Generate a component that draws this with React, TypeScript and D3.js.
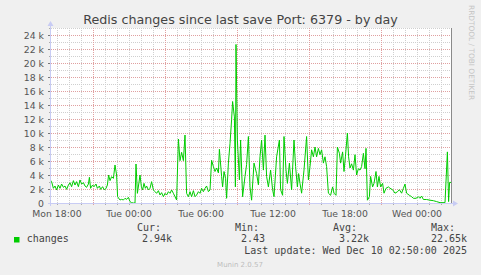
import React from 'react';
import * as d3 from 'd3';

const W = 481;
const H = 275;

// time window (UTC used as wall clock)
const START = Date.UTC(2025, 11, 8, 17, 30);
const END = Date.UTC(2025, 11, 10, 2, 50);

// minutes after START and value in thousands
const sampleMinutes = [
  0, 3, 12, 20, 28, 37, 45, 53, 62, 70, 78, 87, 95, 103, 112, 120, 128, 137, 145, 153,
  162, 170, 178, 187, 192, 198, 208, 215, 225, 232, 242, 248, 258, 267, 275, 282, 288, 295, 303, 312,
  320, 328, 333, 345, 353, 362, 370, 378, 387, 395, 403, 412, 420, 425, 432, 438, 445, 452, 458, 465,
  472, 478, 487, 495, 503, 512, 520, 528, 537, 545, 553, 562, 570, 578, 587, 595, 603, 612, 620, 628,
  637, 645, 653, 662, 670, 678, 687, 695, 703, 712, 720, 728, 737, 745, 753, 762, 770, 778, 787, 795,
  803, 812, 820, 828, 837, 842, 853, 858, 865, 873, 878, 887, 895, 903, 908, 917, 922, 925, 932, 942,
  948, 958, 970, 978, 987, 995, 1003, 1015, 1028, 1037, 1045, 1053, 1062, 1070, 1078, 1087, 1098, 1108, 1115, 1128,
  1142, 1148, 1158, 1165, 1175, 1182, 1192, 1203, 1215, 1223, 1232, 1238, 1245, 1253, 1265, 1278, 1287, 1295, 1303, 1312,
  1320, 1328, 1337, 1345, 1353, 1362, 1370, 1378, 1387, 1398, 1408, 1415, 1425, 1432, 1442, 1448, 1458, 1465, 1472, 1482,
  1488, 1495, 1503, 1512, 1520, 1528, 1537, 1545, 1553, 1562, 1570, 1575, 1582, 1592, 1598, 1608, 1615, 1625, 1632, 1640,
  1648, 1658, 1665, 1675, 1687, 1695, 1708, 1720, 1732, 1742, 1753, 1762, 1770, 1778, 1792, 1803, 1812, 1825, 1837, 1845,
  1853, 1862, 1878, 1895, 1912, 1928, 1945, 1970, 1982, 1988, 1993, 2000,
];
const changesK = [
  3.2, 3.05, 2.1, 2.43, 1.86, 2.57, 2.1, 2.71, 2.24, 2.43, 1.95, 2.57, 2.9, 2.33, 3.19, 2.57, 3.05, 2.33, 3.29, 2.71,
  2.9, 2.43, 2.24, 2.71, 3.67, 2.1, 2.57, 2.33, 2.71, 2.1, 2.43, 1.95, 2.33, 1.86, 2.1, 2.57, 4.0, 3.19, 3.76, 3.52,
  5.43, 4.0, 0.9, 0.43, 0.52, 0.43, 0.67, 0.52, 0.81, 0.19, 0.05, 0.0, 0.0, 5.57, 1.38, 2.57, 4.0, 2.33, 1.86, 2.81,
  2.1, 2.43, 1.86, 2.1, 3.05, 1.86, 1.62, 1.38, 1.76, 1.14, 1.48, 0.9, 1.38, 1.14, 1.62, 1.38, 1.86, 1.38, 0.9, 0.43,
  9.14, 6.05, 7.24, 6.05, 9.71, 1.38, 0.9, 1.62, 0.9, 1.76, 0.9, 1.14, 1.62, 1.38, 2.1, 1.62, 2.1, 2.43, 1.62, 1.86,
  6.1, 5.2, 4.5, 5.0, 4.3, 7.67, 3.8, 2.3, 4.5, 3.5, 0.67, 5.7, 8.5, 11.9, 14.5, 12.3, 2.3, 22.65, 9.0, 3.3,
  9.0, 0.9, 3.8, 5.5, 9.5, 2.3, 0.4, 5.7, 4.2, 2.6, 6.6, 9.0, 4.7, 9.7, 3.8, 2.3, 4.7, 1.9, 0.9, 6.6,
  9.0, 1.9, 1.1, 9.5, 4.7, 2.8, 5.7, 1.9, 9.0, 5.2, 2.3, 4.2, 2.8, 1.4, 4.7, 9.5, 3.3, 5.2, 7.6, 6.6,
  8.0, 6.6, 7.8, 6.9, 7.6, 5.7, 6.6, 5.2, 1.4, 1.1, 2.3, 1.4, 1.1, 8.0, 7.1, 5.7, 7.3, 4.5, 6.6, 10.0,
  6.6, 5.0, 5.6, 4.7, 6.9, 4.0, 4.9, 4.7, 5.2, 7.1, 4.9, 7.8, 0.4, 0.9, 3.8, 2.3, 2.8, 4.5, 2.3, 3.8,
  2.3, 2.8, 1.4, 2.1, 2.3, 2.1, 1.9, 1.4, 1.6, 1.9, 1.4, 2.1, 2.7, 1.4, 1.1, 0.9, 0.67, 0.67, 0.9, 0.67,
  1.0, 0.5, 0.5, 0.4, 0.33, 0.2, 0.05, 0.05, 7.3, 0.2, 2.94, 2.94,
];

const yMajorTicks = [0, 2, 4, 6, 8, 10, 12, 14, 16, 18, 20, 22, 24];
const yMinorTicks = [1, 3, 5, 7, 9, 11, 13, 15, 17, 19, 21, 23, 25];

const legendHeaders = ['Cur:', 'Min:', 'Avg:', 'Max:'];
const legendValues = ['2.94k', '2.43', '3.22k', '22.65k'];
const seriesName = 'changes';
const title = 'Redis changes since last save Port: 6379 - by day';
const lastUpdate = 'Last update: Wed Dec 10 02:50:00 2025';

const PL = 51, PR = 451, PT = 28, PB = 203;

export default function App() {
  const x = d3.scaleUtc().domain([new Date(START), new Date(END)]).range([PL, PR]);
  const y = d3.scaleLinear().domain([0, 25]).range([PB, PT]);

  const hours = d3.utcHour.range(new Date(START), new Date(END + 1));
  const labelHours = hours.filter((d) => d.getUTCHours() % 6 === 0);
  const majorHours = hours.filter((d) => d.getUTCHours() % 6 === 3);
  const minorHours = hours.filter((d) => d.getUTCHours() % 6 !== 3);
  const fmt = d3.utcFormat('%a %H:%M');

  const pts: [number, number][] = sampleMinutes.map((m, i) => [START + m * 60000, changesK[i]]);
  const line = d3
    .line<[number, number]>()
    .x((d) => x(new Date(d[0])))
    .y((d) => y(d[1]));

  const sans = 'DejaVu Sans, sans-serif';
  const mono = 'DejaVu Sans Mono, monospace';
  const axisCol = '#c8ccf4';
  const minorCol = '#cfcfcf';
  const majorCol = '#e0a0a0';
  const legendX = [137, 235, 333, 431];
  const valueRight = [172, 265, 369, 467];

  return (
    <svg width={W} height={H} style={{ position: 'absolute', left: 0, top: 0 }}>
      <rect x={0} y={0} width={W} height={H} fill="#f0f0f0" />
      <rect x={PL} y={PT} width={PR - PL} height={PB - PT} fill="#ffffff" />

      {/* minor grid */}
      {yMinorTicks.map((v) => (
        <line key={'ym' + v} x1={PL} x2={PR} y1={y(v) + 0.5} y2={y(v) + 0.5} stroke={minorCol} strokeDasharray="1,1" />
      ))}
      {minorHours.map((d) => (
        <line key={'xm' + +d} x1={Math.round(x(d)) + 0.5} x2={Math.round(x(d)) + 0.5} y1={PT} y2={PB} stroke={minorCol} strokeDasharray="1,1" />
      ))}
      {/* major grid */}
      {yMajorTicks.filter((v) => v > 0).map((v) => (
        <line key={'yM' + v} x1={PL} x2={PR + 2} y1={y(v) + 0.5} y2={y(v) + 0.5} stroke={majorCol} strokeDasharray="1,1" />
      ))}
      {majorHours.map((d) => (
        <line key={'xM' + +d} x1={Math.round(x(d)) + 0.5} x2={Math.round(x(d)) + 0.5} y1={PT} y2={PB + 3} stroke={majorCol} strokeDasharray="1,1" />
      ))}

      {/* y ticks */}
      {yMajorTicks.map((v) => (
        <line key={'yt' + v} x1={PL - 3} x2={PL} y1={y(v) + 0.5} y2={y(v) + 0.5} stroke="#777" />
      ))}
      {yMinorTicks.map((v) => (
        <line key={'ytm' + v} x1={PL - 2} x2={PL} y1={y(v) + 0.5} y2={y(v) + 0.5} stroke="#aaa" />
      ))}
      {minorHours.map((d) => (
        <line key={'xt' + +d} x1={Math.round(x(d)) + 0.5} x2={Math.round(x(d)) + 0.5} y1={PB} y2={PB + 2} stroke="#aaa" />
      ))}

      {/* right frame */}
      <line x1={PR + 0.5} x2={PR + 0.5} y1={PT} y2={PB} stroke="#8a8a8a" />

      {/* data */}
      <path d={line(pts) || ''} fill="none" stroke="#00cc00" strokeWidth={1} />

      {/* axes */}
      <line x1={PL - 0.5} x2={PL - 0.5} y1={PT - 3} y2={PB + 3} stroke={axisCol} />
      <line x1={PL - 3} x2={PR + 3} y1={PB + 0.5} y2={PB + 0.5} stroke={axisCol} />
      <path d={`M${PL - 3.5},${PT - 2} L${PL - 0.5},${PT - 7} L${PL + 2.5},${PT - 2} Z`} fill={axisCol} />
      <path d={`M${PR + 2},${PB - 2.5} L${PR + 7},${PB + 0.5} L${PR + 2},${PB + 3.5} Z`} fill={axisCol} />

      {/* y labels */}
      {yMajorTicks.map((v) => (
        <text key={'yl' + v} x={44} y={y(v) + 3.5} textAnchor="end" fontFamily={sans} fontSize={9.3} fill="#555">
          {v === 0 ? '0' : `${v} k`}
        </text>
      ))}
      {/* x labels */}
      {labelHours.map((d) => (
        <text key={'xl' + +d} x={x(d)} y={216.5} textAnchor="middle" fontFamily={sans} fontSize={9.3} fill="#555">
          {fmt(d)}
        </text>
      ))}

      {/* title */}
      <text x={240.5} y={24} textAnchor="middle" fontFamily={sans} fontSize={12.7} fill="#444">
        {title}
      </text>
      <text
        transform="translate(468.5,5) rotate(90)"
        fontFamily={sans}
        fontSize={7.4}
        fill="#c4c4c4"
      >
        RRDTOOL / TOBI OETIKER
      </text>

      {/* legend */}
      <rect x={14} y={237} width={5.5} height={5.5} fill="#00cc00" />
      <text x={26.7} y={242.3} fontFamily={mono} fontSize={10} fill="#444">
        {seriesName}
      </text>
      {legendHeaders.map((h, i) => (
        <text key={h} x={legendX[i]} y={230.7} fontFamily={mono} fontSize={10} fill="#444">
          {h}
        </text>
      ))}
      {legendValues.map((v, i) => (
        <text key={'lv' + i} x={valueRight[i]} y={242.3} textAnchor="end" fontFamily={mono} fontSize={10} fill="#444">
          {v}
        </text>
      ))}
      <text x={467} y={254.3} textAnchor="end" fontFamily={mono} fontSize={10} fill="#444">
        {lastUpdate}
      </text>
      <text x={240} y={267.3} textAnchor="middle" fontFamily={sans} fontSize={7} fill="#bdbdbd">
        Munin 2.0.57
      </text>
    </svg>
  );
}
